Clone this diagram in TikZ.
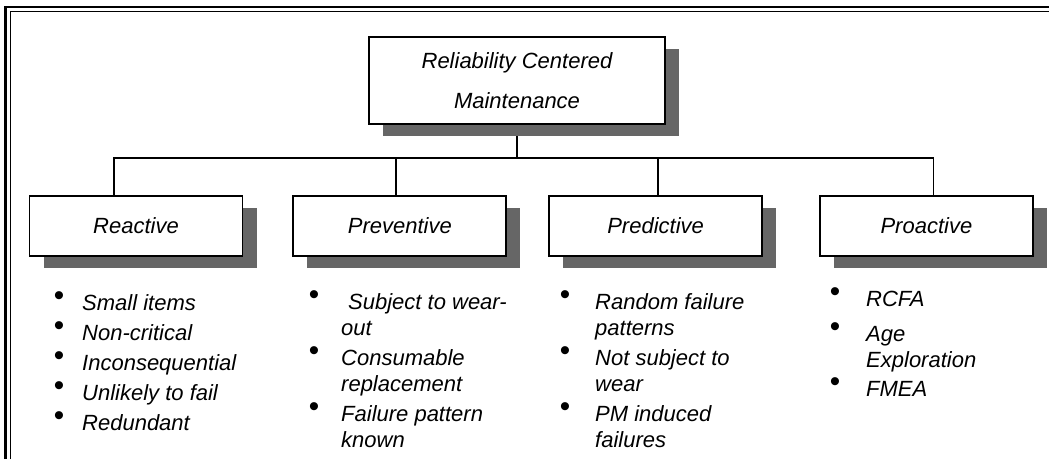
\documentclass[tikz,border=0pt]{standalone}
\usepackage{fontspec}
\newfontfamily\arialfont{Liberation Sans}
\usepackage{xcolor}
\definecolor{rcmShadow}{HTML}{666666}
\usepackage{tikz}
\usetikzlibrary{positioning, shadows, backgrounds}

% bullet hanging left of the item text
\newcommand{\itm}[1]{\llap{\raisebox{5pt}{\upshape\scalebox{1.35}{\textbullet}}\hspace{#1}}}

\begin{document}
\begin{tikzpicture}[
		x=1pt, y=-1pt,
		node distance=45pt,
		box/.style={
			draw,
			line width=1.8pt,
			fill=white,
			minimum width=213pt,
			minimum height=60pt,
			align=center,
			font=\arialfont\itshape\fontsize{22}{40}\selectfont,
			drop shadow={shadow xshift=14pt, shadow yshift=-12pt, fill=rcmShadow, opacity=1}
		},
		link/.style={line width=1.8pt},
		list/.style={
			inner sep=0pt,
			align=left,
			anchor=base west,
			font=\arialfont\itshape\fontsize{22}{26}\selectfont
		}
		]
		
		\useasboundingbox (0,0) rectangle (1049,459);
		
		% double frame
		\draw[line width=2.5pt] (5.5,459) -- (5.5,7) -- (1049,7);
		\draw[line width=1.5pt] (10.5,459) -- (10.5,11.5) -- (1049,11.5);
		
		\node[box, minimum width=296pt, minimum height=87pt] (rcm) at (517,80.5) {Reliability Centered\\Maintenance};
		
		\node[box] (reactive) at (136,226) {Reactive};
		\node[box, right=49pt of reactive] (preventive) {Preventive};
		\node[box, right=41pt of preventive] (predictive) {Predictive};
		\node[box, right=56pt of predictive] (proactive) {Proactive};
		
		\coordinate (bus) at (517,158);
		
		\begin{scope}[on background layer]
			\draw[link] (rcm.south) -- (bus);
			\draw[link] ([xshift=-22pt]reactive.north) |- (bus) -| ([xshift=7pt]proactive.north);
			\draw[link] ([xshift=-4pt]preventive.north) |- (bus);
			\draw[link] ([xshift=2pt]predictive.north) |- (bus);
		\end{scope}
		
		% lists are placed by the baseline of their last line
		\node[list] (reactlist) at (82,430) {\itm{18pt}Small items\\[4pt]
			\itm{18pt}Non-critical\\[4pt]
			\itm{18pt}Inconsequential\\[4pt]
			\itm{18pt}Unlikely to fail\\[4pt]
			\itm{18pt}Redundant};
		\node[list] (prevlist) at (341,447) {\itm{22pt}\hspace{7pt}Subject to wear-\\
			out\\[4pt]
			\itm{22pt}Consumable\\
			replacement\\[4pt]
			\itm{22pt}Failure pattern\\
			known};
		\node[list] (predlist) at (595,447) {\itm{25pt}Random failure\\
			patterns\\[4pt]
			\itm{25pt}Not subject to\\
			wear\\[4pt]
			\itm{25pt}PM induced\\
			failures};
		\node[list] (proalist) at (866,396.5) {\itm{26pt}RCFA\\[9pt]
			\itm{26pt}Age\\
			Exploration\\[3pt]
			\itm{26pt}FMEA};
		
	\end{tikzpicture}
\end{document}
